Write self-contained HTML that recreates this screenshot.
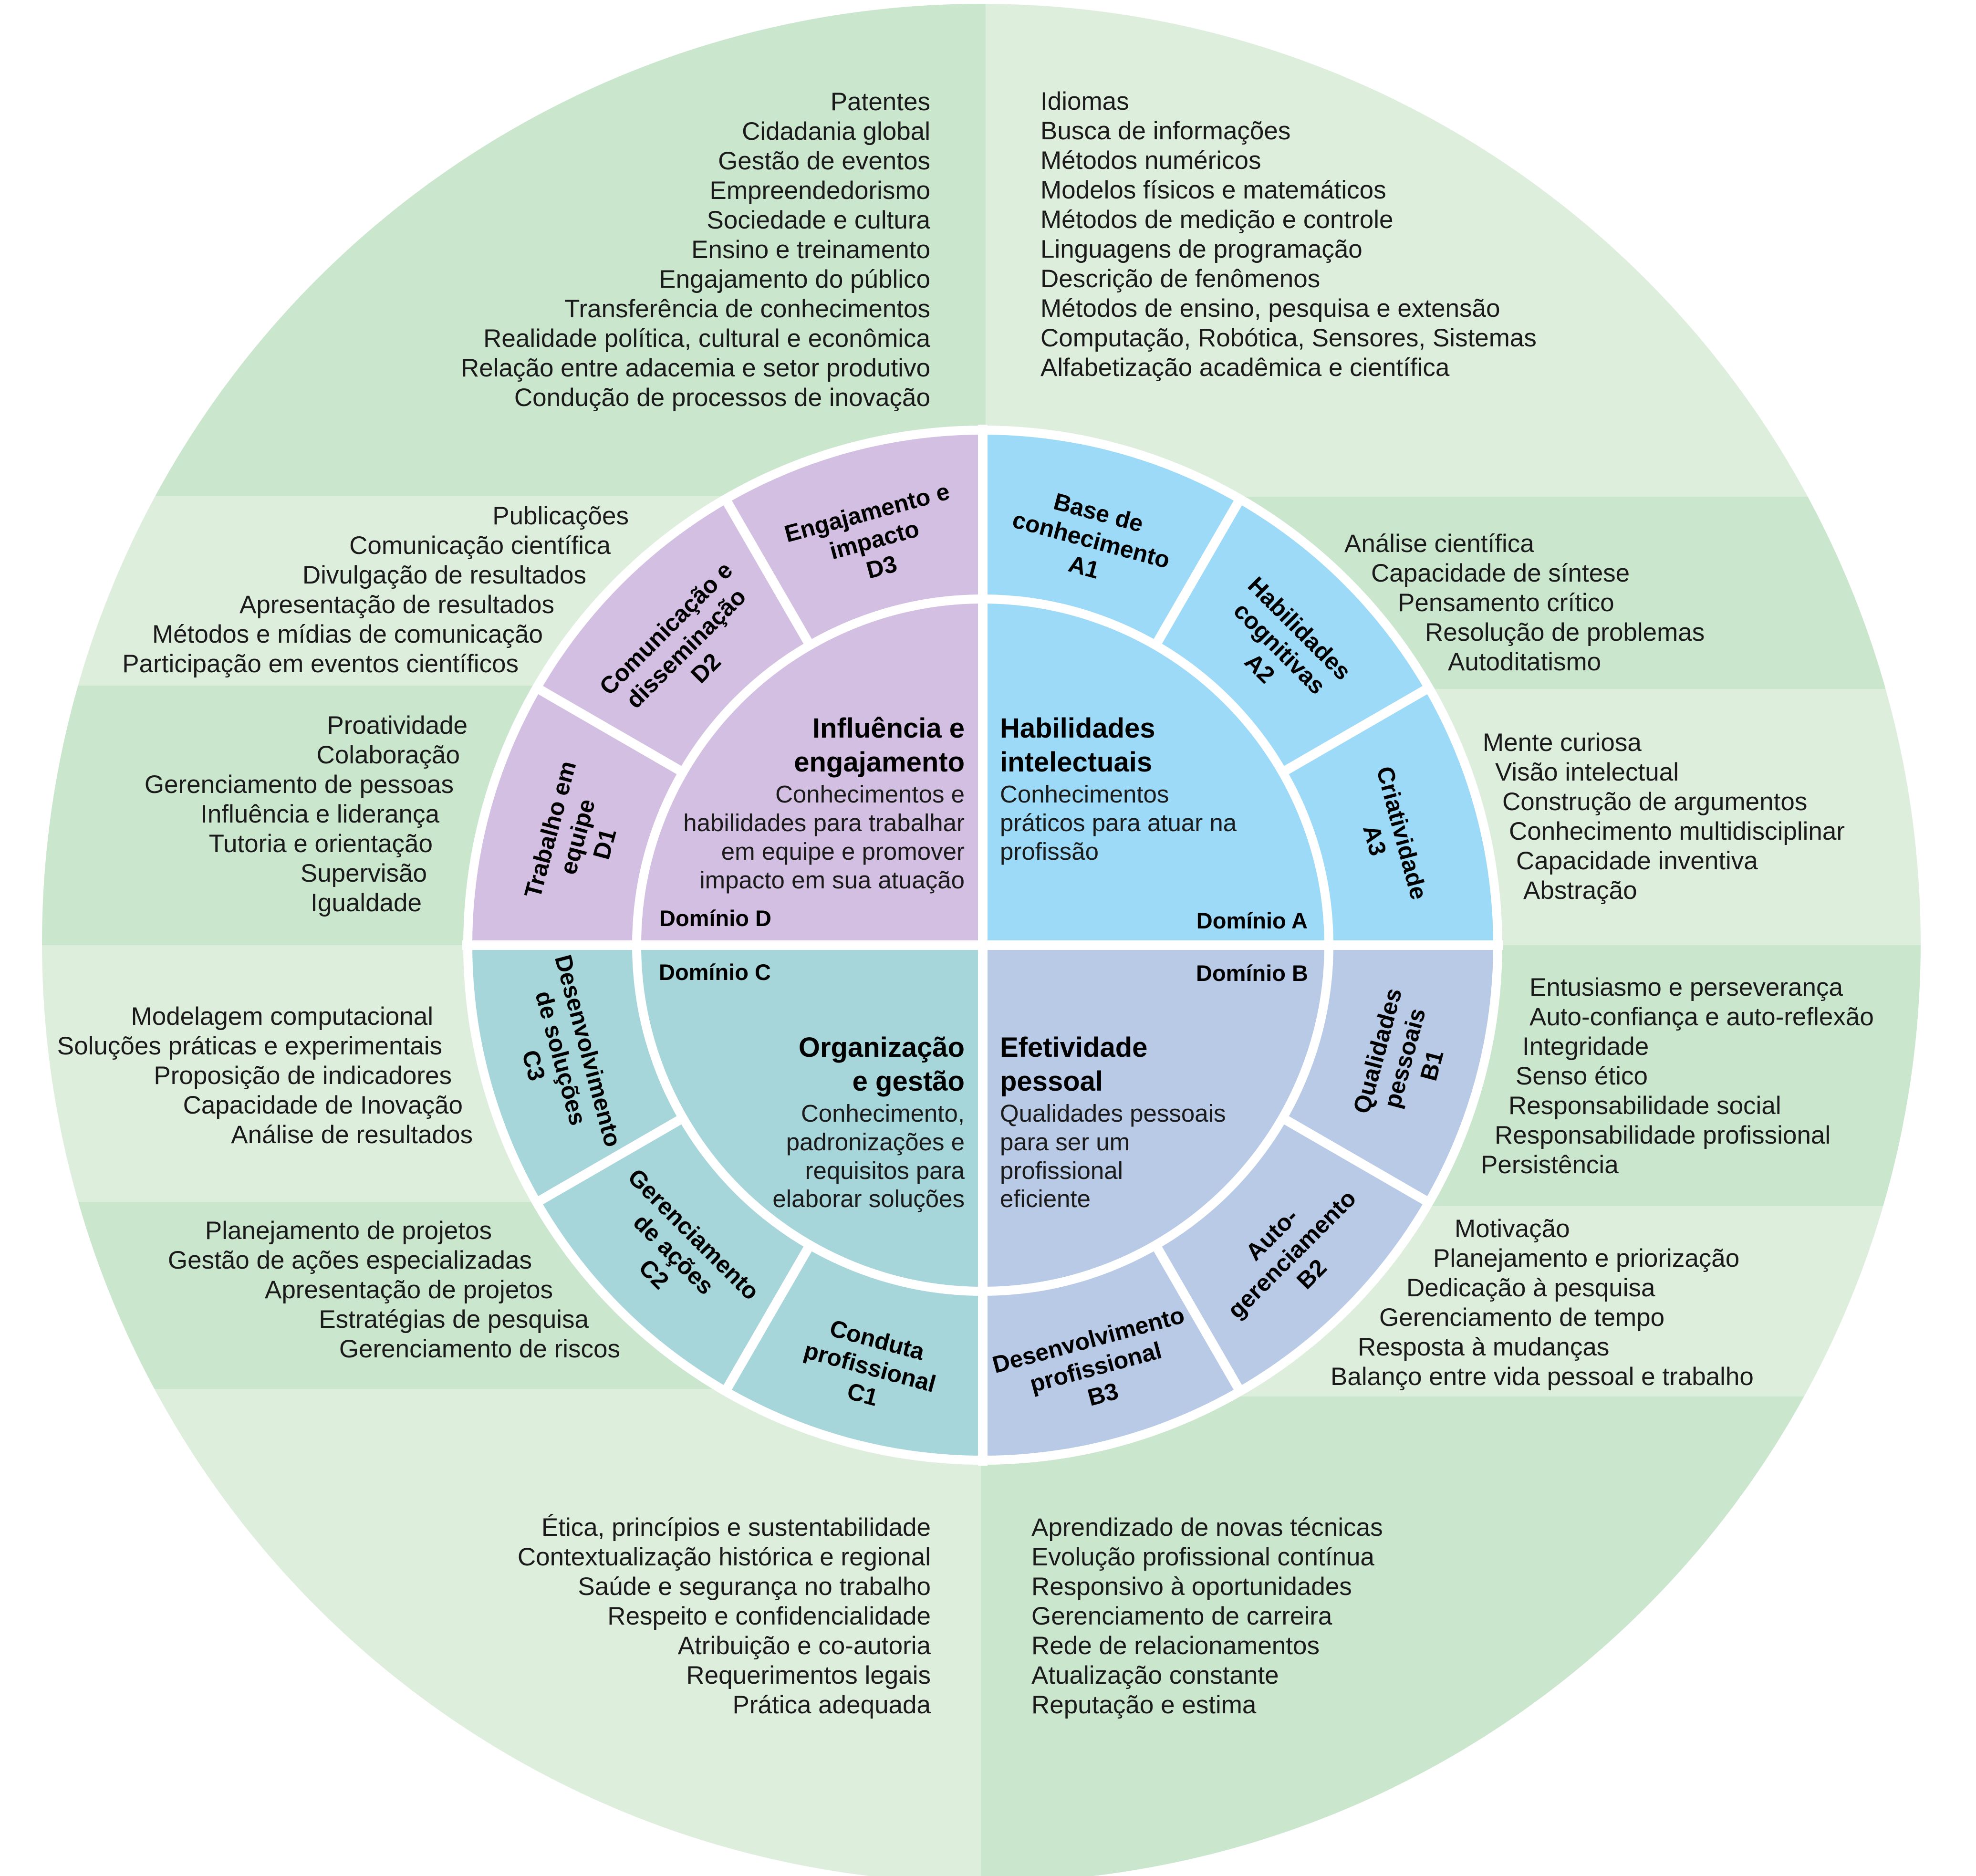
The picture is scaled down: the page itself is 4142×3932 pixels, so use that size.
<!DOCTYPE html>
<html><head><meta charset="utf-8"><style>
html,body{margin:0;padding:0;background:#fff;}
svg{display:block;}
.l{font-family:"Liberation Sans",Arial,sans-serif;font-size:53px;fill:#1a1a1a;}
.t{font-family:"Liberation Sans",Arial,sans-serif;font-size:58px;font-weight:bold;fill:#000;}
.d{font-family:"Liberation Sans",Arial,sans-serif;font-size:51px;fill:#1a1a1a;}
.m{font-family:"Liberation Sans",Arial,sans-serif;font-size:47px;font-weight:bold;fill:#000;}
.s{font-family:"Liberation Sans",Arial,sans-serif;font-size:50px;font-weight:bold;fill:#000;}
</style></head><body>
<svg width="4142" height="3932" viewBox="0 0 4142 3932" xmlns="http://www.w3.org/2000/svg">
<defs><clipPath id="bg"><circle cx="2057" cy="1977" r="1969"/></clipPath></defs>
<g clip-path="url(#bg)">
<rect x="0" y="0" width="2066" height="1040" fill="#cae6cd"/>
<rect x="0" y="1040" width="2066" height="397" fill="#deeedc"/>
<rect x="0" y="1437" width="2066" height="545" fill="#cae6cd"/>
<rect x="2066" y="0" width="2076" height="1041" fill="#deeedc"/>
<rect x="2066" y="1041" width="2076" height="403" fill="#cae6cd"/>
<rect x="2066" y="1444" width="2076" height="538" fill="#deeedc"/>
<rect x="0" y="1981" width="2056" height="538" fill="#deeedc"/>
<rect x="0" y="2519" width="2056" height="392" fill="#cae6cd"/>
<rect x="0" y="2911" width="2056" height="1021" fill="#deeedc"/>
<rect x="2056" y="1981" width="2086" height="547" fill="#cae6cd"/>
<rect x="2056" y="2528" width="2086" height="399" fill="#deeedc"/>
<rect x="2056" y="2927" width="2086" height="1005" fill="#cae6cd"/>
</g>
<circle cx="2060" cy="1981" r="1089" fill="#fff"/>
<path d="M2060,1981 L2060,911 A1070,1070 0 0 1 3130,1981 Z" fill="#9cdaf7"/>
<path d="M2060,1981 L3130,1981 A1070,1070 0 0 1 2060,3051 Z" fill="#b9cae6"/>
<path d="M2060,1981 L2060,3051 A1070,1070 0 0 1 990,1981 Z" fill="#a6d5da"/>
<path d="M2060,1981 L990,1981 A1070,1070 0 0 1 2060,911 Z" fill="#d3bfe1"/>
<circle cx="2060" cy="1981" r="725.5" fill="none" stroke="#fff" stroke-width="19"/>
<rect x="2050" y="890" width="20" height="2182" fill="#fff"/>
<rect x="969" y="1971" width="2182" height="20" fill="#fff"/>
<g stroke="#fff" stroke-width="20">
<line x1="2688" y1="1619" x2="3003" y2="1437"/>
<line x1="2422" y1="1353" x2="2604" y2="1038"/>
<line x1="1698" y1="1353" x2="1516" y2="1038"/>
<line x1="1432" y1="1619" x2="1117" y2="1437"/>
<line x1="1432" y1="2343" x2="1117" y2="2525"/>
<line x1="1698" y1="2609" x2="1516" y2="2924"/>
<line x1="2422" y1="2609" x2="2604" y2="2924"/>
<line x1="2688" y1="2343" x2="3003" y2="2525"/>
</g>

<!-- top-left list -->
<g class="l" text-anchor="end">
<text x="1950" y="231">Patentes</text>
<text x="1950" y="293">Cidadania global</text>
<text x="1950" y="355">Gestão de eventos</text>
<text x="1950" y="417">Empreendedorismo</text>
<text x="1950" y="479">Sociedade e cultura</text>
<text x="1950" y="541">Ensino e treinamento</text>
<text x="1950" y="603">Engajamento do público</text>
<text x="1950" y="665">Transferência de conhecimentos</text>
<text x="1950" y="727">Realidade política, cultural e econômica</text>
<text x="1950" y="789">Relação entre adacemia e setor produtivo</text>
<text x="1950" y="851">Condução de processos de inovação</text>

<text x="1318" y="1099">Publicações</text>
<text x="1280" y="1161">Comunicação científica</text>
<text x="1229" y="1223">Divulgação de resultados</text>
<text x="1162" y="1285">Apresentação de resultados</text>
<text x="1138" y="1347">Métodos e mídias de comunicação</text>
<text x="1087" y="1409">Participação em eventos científicos</text>

<text x="980" y="1538">Proatividade</text>
<text x="964" y="1600">Colaboração</text>
<text x="951" y="1662">Gerenciamento de pessoas</text>
<text x="921" y="1724">Influência e liderança</text>
<text x="907" y="1786">Tutoria e orientação</text>
<text x="895" y="1848">Supervisão</text>
<text x="884" y="1910">Igualdade</text>

<text x="908" y="2148">Modelagem computacional</text>
<text x="927" y="2210">Soluções práticas e experimentais</text>
<text x="947" y="2272">Proposição de indicadores</text>
<text x="970" y="2334">Capacidade de Inovação</text>
<text x="991" y="2396">Análise de resultados</text>

<text x="1031" y="2597">Planejamento de projetos</text>
<text x="1115" y="2659">Gestão de ações especializadas</text>
<text x="1159" y="2721">Apresentação de projetos</text>
<text x="1234" y="2783">Estratégias de pesquisa</text>
<text x="1300" y="2845">Gerenciamento de riscos</text>

<text x="1951" y="3219">Ética, princípios e sustentabilidade</text>
<text x="1951" y="3281">Contextualização histórica e regional</text>
<text x="1951" y="3343">Saúde e segurança no trabalho</text>
<text x="1951" y="3405">Respeito e confidencialidade</text>
<text x="1951" y="3467">Atribuição e co-autoria</text>
<text x="1951" y="3529">Requerimentos legais</text>
<text x="1951" y="3591">Prática adequada</text>
</g>

<g class="l" text-anchor="start">
<text x="2181" y="230">Idiomas</text>
<text x="2181" y="292">Busca de informações</text>
<text x="2181" y="354">Métodos numéricos</text>
<text x="2181" y="416">Modelos físicos e matemáticos</text>
<text x="2181" y="478">Métodos de medição e controle</text>
<text x="2181" y="540">Linguagens de programação</text>
<text x="2181" y="602">Descrição de fenômenos</text>
<text x="2181" y="664">Métodos de ensino, pesquisa e extensão</text>
<text x="2181" y="726">Computação, Robótica, Sensores, Sistemas</text>
<text x="2181" y="788">Alfabetização acadêmica e científica</text>

<text x="2818" y="1157">Análise científica</text>
<text x="2874" y="1219">Capacidade de síntese</text>
<text x="2930" y="1281">Pensamento crítico</text>
<text x="2987" y="1343">Resolução de problemas</text>
<text x="3035" y="1405">Autoditatismo</text>

<text x="3108" y="1574">Mente curiosa</text>
<text x="3134" y="1636">Visão intelectual</text>
<text x="3149" y="1698">Construção de argumentos</text>
<text x="3163" y="1760">Conhecimento multidisciplinar</text>
<text x="3178" y="1822">Capacidade inventiva</text>
<text x="3193" y="1884">Abstração</text>

<text x="3206" y="2087">Entusiasmo e perseverança</text>
<text x="3206" y="2149">Auto-confiança e auto-reflexão</text>
<text x="3191" y="2211">Integridade</text>
<text x="3177" y="2273">Senso ético</text>
<text x="3162" y="2335">Responsabilidade social</text>
<text x="3133" y="2397">Responsabilidade profissional</text>
<text x="3104" y="2459">Persistência</text>

<text x="3049" y="2593">Motivação</text>
<text x="3004" y="2655">Planejamento e priorização</text>
<text x="2948" y="2717">Dedicação à pesquisa</text>
<text x="2891" y="2779">Gerenciamento de tempo</text>
<text x="2846" y="2841">Resposta à mudanças</text>
<text x="2789" y="2903">Balanço entre vida pessoal e trabalho</text>

<text x="2162" y="3219">Aprendizado de novas técnicas</text>
<text x="2162" y="3281">Evolução profissional contínua</text>
<text x="2162" y="3343">Responsivo à oportunidades</text>
<text x="2162" y="3405">Gerenciamento de carreira</text>
<text x="2162" y="3467">Rede de relacionamentos</text>
<text x="2162" y="3529">Atualização constante</text>
<text x="2162" y="3591">Reputação e estima</text>
</g>

<!-- Domain centers -->
<g text-anchor="end">
<text class="t" x="2022" y="1546">Influência e</text>
<text class="t" x="2022" y="1617">engajamento</text>
<text class="d" x="2022" y="1682">Conhecimentos e</text>
<text class="d" x="2022" y="1742">habilidades para trabalhar</text>
<text class="d" x="2022" y="1802">em equipe e promover</text>
<text class="d" x="2022" y="1862">impacto em sua atuação</text>
<text class="t" x="2022" y="2215">Organização</text>
<text class="t" x="2022" y="2286">e gestão</text>
<text class="d" x="2022" y="2351">Conhecimento,</text>
<text class="d" x="2022" y="2411">padronizações e</text>
<text class="d" x="2022" y="2471">requisitos para</text>
<text class="d" x="2022" y="2530">elaborar soluções</text>
<text class="m" x="2741" y="1946">Domínio A</text>
<text class="m" x="2742" y="2056">Domínio B</text>
</g>
<g text-anchor="start">
<text class="t" x="2096" y="1546">Habilidades</text>
<text class="t" x="2096" y="1617">intelectuais</text>
<text class="d" x="2096" y="1682">Conhecimentos</text>
<text class="d" x="2096" y="1742">práticos para atuar na</text>
<text class="d" x="2096" y="1802">profissão</text>
<text class="t" x="2096" y="2215">Efetividade</text>
<text class="t" x="2096" y="2286">pessoal</text>
<text class="d" x="2096" y="2351">Qualidades pessoais</text>
<text class="d" x="2096" y="2411">para ser um</text>
<text class="d" x="2096" y="2471">profissional</text>
<text class="d" x="2096" y="2530">eficiente</text>
<text class="m" x="1382" y="1941">Domínio D</text>
<text class="m" x="1381" y="2054">Domínio C</text>
</g>

<!-- Subdomain labels -->
<g class="s" text-anchor="middle">
<g transform="translate(2292,1114) rotate(15)"><text y="-24">Base de</text><text y="35">conhecimento</text><text y="94">A1</text></g>
<g transform="translate(2695,1346) rotate(45)"><text y="-24">Habilidades</text><text y="35">cognitivas</text><text y="94">A2</text></g>
<g transform="translate(2927,1749) rotate(75)"><text y="5">Criatividade</text><text y="64">A3</text></g>
<g transform="translate(2927,2213) rotate(-75)"><text y="-24">Qualidades</text><text y="35">pessoais</text><text y="94">B1</text></g>
<g transform="translate(2695,2616) rotate(-45)"><text y="-24">Auto-</text><text y="35">gerenciamento</text><text y="94">B2</text></g>
<g transform="translate(2292,2848) rotate(-15)"><text y="-24">Desenvolvimento</text><text y="35">profissional</text><text y="94">B3</text></g>
<g transform="translate(1828,2848) rotate(15)"><text y="-24">Conduta</text><text y="35">profissional</text><text y="94">C1</text></g>
<g transform="translate(1425,2616) rotate(45)"><text y="-24">Gerenciamento</text><text y="35">de ações</text><text y="94">C2</text></g>
<g transform="translate(1193,2213) rotate(75)"><text y="-24">Desenvolvimento</text><text y="35">de soluções</text><text y="94">C3</text></g>
<g transform="translate(1193,1749) rotate(-75)"><text y="-24">Trabalho em</text><text y="35">equipe</text><text y="94">D1</text></g>
<g transform="translate(1425,1346) rotate(-45)"><text y="-24">Comunicação e</text><text y="35">disseminação</text><text y="94">D2</text></g>
<g transform="translate(1828,1114) rotate(-15)"><text y="-24">Engajamento e</text><text y="35">impacto</text><text y="94">D3</text></g>
</g>
</svg>
</body></html>
